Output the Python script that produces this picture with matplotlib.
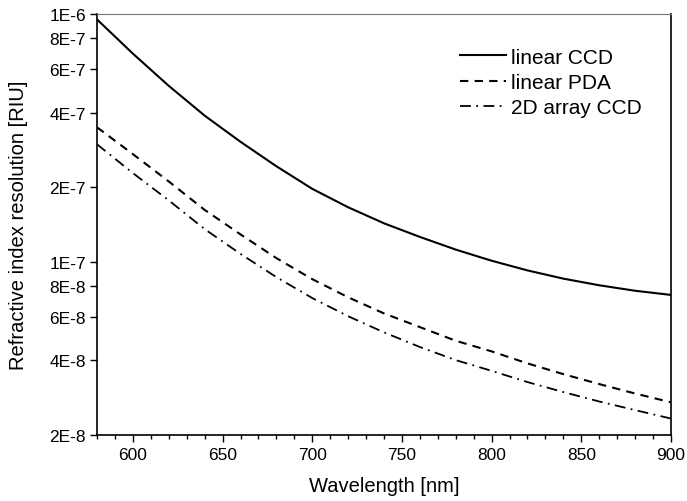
import matplotlib
matplotlib.use("Agg")
import matplotlib.pyplot as plt
from matplotlib.ticker import FixedLocator, MultipleLocator, NullLocator

plt.rcParams["font.family"] = ["Liberation Sans", "DejaVu Sans"]

# data
wavelength = [580, 600, 620, 640, 660, 680, 700, 720, 740, 760, 780,
              800, 820, 840, 860, 880, 900]

linear_ccd = [9.51e-7, 6.92e-7, 5.13e-7, 3.89e-7, 3.05e-7, 2.43e-7, 1.97e-7,
              1.66e-7, 1.43e-7, 1.26e-7, 1.12e-7, 1.01e-7, 9.23e-8, 8.55e-8,
              8.04e-8, 7.64e-8, 7.35e-8]
linear_pda = [3.49e-7, 2.72e-7, 2.11e-7, 1.62e-7, 1.29e-7, 1.035e-7, 8.51e-8,
              7.19e-8, 6.19e-8, 5.45e-8, 4.80e-8, 4.35e-8, 3.89e-8, 3.52e-8,
              3.21e-8, 2.94e-8, 2.71e-8]
array_2d = [2.98e-7, 2.28e-7, 1.77e-7, 1.355e-7, 1.076e-7, 8.67e-8, 7.14e-8,
            6.03e-8, 5.19e-8, 4.53e-8, 4.01e-8, 3.63e-8, 3.27e-8, 2.98e-8,
            2.73e-8, 2.52e-8, 2.33e-8]

y_ticks = [2e-8, 4e-8, 6e-8, 8e-8, 1e-7, 2e-7, 4e-7, 6e-7, 8e-7, 1e-6]
y_tick_labels = ["2E-8", "4E-8", "6E-8", "8E-8", "1E-7",
                 "2E-7", "4E-7", "6E-7", "8E-7", "1E-6"]
x_ticks = [600, 650, 700, 750, 800, 850, 900]

fig = plt.figure(figsize=(6.87, 5.02), dpi=100)
ax = fig.add_axes([0.1412, 0.1315, 0.8355, 0.8386])

ax.plot(wavelength, linear_ccd, color="black", lw=1.5, label="linear CCD")
ax.plot(wavelength, linear_pda, color="black", lw=1.5, dashes=(4, 3),
        label="linear PDA")
ax.plot(wavelength, array_2d, color="black", lw=1.3, dashes=(6, 3, 1, 3),
        label="2D array CCD")

ax.set_yscale("log")
ax.set_xlim(580, 900)
ax.set_ylim(2e-8, 1e-6)

ax.yaxis.set_major_locator(FixedLocator(y_ticks))
ax.yaxis.set_minor_locator(NullLocator())
ax.set_yticklabels(y_tick_labels)
ax.xaxis.set_major_locator(FixedLocator(x_ticks))
ax.xaxis.set_minor_locator(MultipleLocator(10))

ax.tick_params(axis="both", which="major", direction="out", length=5,
               width=1, labelsize=12.5, color="black")
ax.tick_params(axis="x", which="minor", direction="out", length=3, width=1)
ax.tick_params(axis="x", pad=4)
ax.tick_params(axis="y", pad=3)

for side in ["left", "bottom", "right"]:
    ax.spines[side].set_linewidth(1.2)
ax.spines["top"].set_linewidth(0.8)
ax.spines["top"].set_color("#777777")

ax.set_xlabel("Wavelength [nm]", fontsize=14.5, labelpad=10)
ax.set_ylabel("Refractive index resolution [RIU]", fontsize=14.5, labelpad=15)

ax.legend(loc="upper left", bbox_to_anchor=(0.632, 0.92), frameon=False,
          fontsize=15, handlelength=2.2, handletextpad=0.25, borderpad=0,
          borderaxespad=0, labelspacing=0.3)

fig.savefig("out.png", dpi=100)
